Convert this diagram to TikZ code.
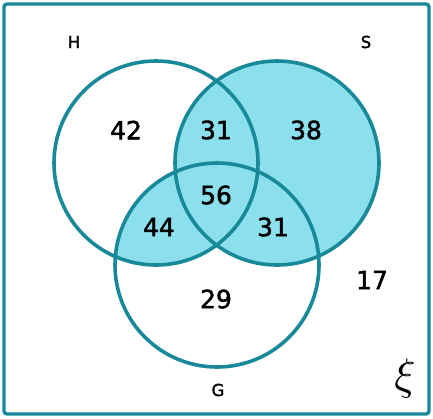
\documentclass[tikz,border=0pt]{standalone}
\usepackage{fontspec}
\usepackage{graphicx}
\setmainfont{DejaVu Sans}
\newfontfamily\numfont[FakeBold=1.8]{DejaVu Sans}
\definecolor{edgecol}{RGB}{24,137,152}
\definecolor{vennfill}{RGB}{140,223,236}
\begin{document}
\begin{tikzpicture}[x=1pt,y=-1pt,
  ring/.style={draw=edgecol,line width=3.6pt},
  num/.style={font=\numfont\fontsize{25}{28}\selectfont,inner sep=0pt},
  lab/.style={font=\numfont\fontsize{16.5}{19}\selectfont,inner sep=0pt}]
\useasboundingbox (0,0) rectangle (433,418);
\coordinate (cH) at (156,163);
\coordinate (cS) at (277,163);
\coordinate (cG) at (217,265);
\fill[vennfill] (cS) circle (102);
\begin{scope}
  \clip (cH) circle (102);
  \fill[vennfill] (cG) circle (102);
\end{scope}
\draw[ring] (cH) circle (102);
\draw[ring] (cS) circle (102);
\draw[ring] (cG) circle (102);
\draw[draw=edgecol,line width=3.4pt,rounded corners=3pt] (4,4) rectangle (429,414);
\node[lab] (lH) at (74,42) {H};
\node[lab] (lS) at (366,42) {S};
\node[lab] (lG) at (218,390) {G};
\node[inner sep=0pt] (xi) at (405,378) {\scalebox{4.4}{$\xi$}};
\node[num] (n1) at (126,130) {42};
\node[num] (n2) at (216,130) {31};
\node[num] (n3) at (306,130) {38};
\node[num] (n4) at (216,195) {56};
\node[num] (n5) at (159,227) {44};
\node[num] (n6) at (273,227) {31};
\node[num] (n7) at (216,299) {29};
\node[num] (n8) at (372,280) {17};
\end{tikzpicture}
\end{document}
